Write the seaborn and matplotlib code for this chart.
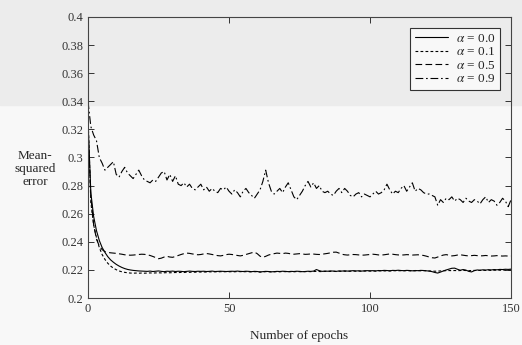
import pandas as pd
import seaborn as sns
import matplotlib.pyplot as plt
from matplotlib.patches import Rectangle

# epochs 0..150
epochs = list(range(151))

mse_a00 = [0.326, 0.275, 0.258, 0.248, 0.241, 0.236, 0.2325, 0.2295, 0.2272, 0.2255,
           0.2240, 0.2228, 0.2218, 0.2210, 0.2204, 0.2200, 0.2197, 0.2195, 0.2193, 0.2192,
           0.2191, 0.2190, 0.2192, 0.2189, 0.2191, 0.2193, 0.2190, 0.2188, 0.2191, 0.2190,
           0.2192, 0.2189, 0.2191, 0.2190, 0.2188, 0.2190, 0.2192, 0.2190, 0.2189, 0.2191,
           0.2190, 0.2191, 0.2189, 0.2190, 0.2192, 0.2189, 0.2190, 0.2191, 0.2190, 0.2189,
           0.2190, 0.2191, 0.2190, 0.2192, 0.2190, 0.2189, 0.2191, 0.2190, 0.2188, 0.2190,
           0.2189, 0.2186, 0.2188, 0.2190, 0.2189, 0.2187, 0.2188, 0.2190, 0.2189, 0.2191,
           0.2190, 0.2188, 0.2190, 0.2189, 0.2191, 0.2190, 0.2188, 0.2189, 0.2191, 0.2190,
           0.2192, 0.2203, 0.2195, 0.2190, 0.2192, 0.2191, 0.2193, 0.2192, 0.2190, 0.2193,
           0.2192, 0.2194, 0.2192, 0.2193, 0.2195, 0.2193, 0.2194, 0.2192, 0.2194, 0.2195,
           0.2194, 0.2195, 0.2193, 0.2196, 0.2195, 0.2197, 0.2196, 0.2194, 0.2197, 0.2196,
           0.2198, 0.2196, 0.2195, 0.2197, 0.2196, 0.2194, 0.2196, 0.2195, 0.2197, 0.2196,
           0.2194, 0.2192, 0.2188, 0.2182, 0.2178, 0.2185, 0.2193, 0.2200, 0.2206, 0.2212,
           0.2213, 0.2205, 0.2198, 0.2203, 0.2199, 0.2190, 0.2186, 0.2195, 0.2200, 0.2198,
           0.2201, 0.2199, 0.2202, 0.2200, 0.2203, 0.2201, 0.2204, 0.2203, 0.2205, 0.2204,
           0.2206]

mse_a01 = [0.330, 0.268, 0.252, 0.243, 0.236, 0.231, 0.2275, 0.2248, 0.2228, 0.2213,
           0.2202, 0.2193, 0.2187, 0.2183, 0.2180, 0.2178, 0.2177, 0.2178, 0.2177, 0.2178,
           0.2177, 0.2178, 0.2179, 0.2178, 0.2179, 0.2180, 0.2179, 0.2180, 0.2181, 0.2180,
           0.2181, 0.2182, 0.2181, 0.2183, 0.2182, 0.2184, 0.2183, 0.2185, 0.2184, 0.2186,
           0.2185, 0.2186, 0.2185, 0.2187, 0.2186, 0.2187, 0.2186, 0.2188, 0.2187, 0.2188,
           0.2187, 0.2188, 0.2187, 0.2189, 0.2188, 0.2187, 0.2188, 0.2187, 0.2186, 0.2188,
           0.2187, 0.2185, 0.2186, 0.2188, 0.2187, 0.2186, 0.2187, 0.2188, 0.2187, 0.2189,
           0.2188, 0.2187, 0.2188, 0.2187, 0.2189, 0.2188, 0.2187, 0.2188, 0.2189, 0.2188,
           0.2189, 0.2190, 0.2189, 0.2188, 0.2190, 0.2189, 0.2190, 0.2191, 0.2189, 0.2191,
           0.2190, 0.2191, 0.2190, 0.2191, 0.2192, 0.2191, 0.2192, 0.2191, 0.2192, 0.2193,
           0.2192, 0.2193, 0.2192, 0.2193, 0.2194, 0.2193, 0.2194, 0.2193, 0.2194, 0.2195,
           0.2194, 0.2195, 0.2194, 0.2195, 0.2194, 0.2193, 0.2194, 0.2195, 0.2194, 0.2195,
           0.2194, 0.2193, 0.2192, 0.2191, 0.2192, 0.2193, 0.2194, 0.2195, 0.2196, 0.2195,
           0.2196, 0.2195, 0.2196, 0.2197, 0.2196, 0.2195, 0.2196, 0.2197, 0.2196, 0.2197,
           0.2198, 0.2197, 0.2198, 0.2197, 0.2198, 0.2199, 0.2198, 0.2199, 0.2198, 0.2199,
           0.2200]

mse_a05 = [0.320, 0.272, 0.252, 0.242, 0.237, 0.2345, 0.2330, 0.2325, 0.2322, 0.2320,
           0.2318, 0.2315, 0.2312, 0.2308, 0.2306, 0.2305, 0.2306, 0.2308, 0.2310, 0.2312,
           0.2311, 0.2308, 0.2303, 0.2296, 0.2288, 0.2280, 0.2284, 0.2292, 0.2297, 0.2292,
           0.2290, 0.2296, 0.2303, 0.2310, 0.2316, 0.2320, 0.2318, 0.2314, 0.2311, 0.2308,
           0.2310, 0.2314, 0.2317, 0.2314, 0.2310, 0.2306, 0.2302, 0.2300, 0.2304, 0.2309,
           0.2312, 0.2310, 0.2307, 0.2303, 0.2300, 0.2304, 0.2310, 0.2316, 0.2322, 0.2327,
           0.2316, 0.2298, 0.2290, 0.2297, 0.2306, 0.2312, 0.2316, 0.2320, 0.2318, 0.2316,
           0.2320, 0.2318, 0.2314, 0.2312, 0.2314, 0.2316, 0.2314, 0.2311, 0.2312, 0.2314,
           0.2313, 0.2311, 0.2310, 0.2312, 0.2315, 0.2318, 0.2322, 0.2326, 0.2327, 0.2320,
           0.2312, 0.2308, 0.2306, 0.2308, 0.2310, 0.2309, 0.2307, 0.2305, 0.2306, 0.2308,
           0.2310, 0.2312, 0.2310, 0.2307, 0.2306, 0.2308, 0.2311, 0.2314, 0.2312, 0.2309,
           0.2307, 0.2306, 0.2307, 0.2309, 0.2308, 0.2306, 0.2307, 0.2308, 0.2306, 0.2303,
           0.2298, 0.2292, 0.2287, 0.2285, 0.2292, 0.2300, 0.2306, 0.2309, 0.2305, 0.2300,
           0.2302, 0.2306, 0.2308, 0.2305, 0.2302, 0.2300, 0.2302, 0.2304, 0.2302, 0.2300,
           0.2301, 0.2303, 0.2301, 0.2299, 0.2300, 0.2302, 0.2300, 0.2299, 0.2300, 0.2299,
           0.2299]

mse_a09 = [0.340, 0.322, 0.316, 0.312, 0.300, 0.296, 0.291, 0.293, 0.295, 0.297,
           0.288, 0.286, 0.290, 0.293, 0.289, 0.287, 0.285, 0.288, 0.291, 0.287,
           0.284, 0.283, 0.282, 0.284, 0.283, 0.286, 0.289, 0.290, 0.284, 0.288,
           0.283, 0.287, 0.281, 0.280, 0.282, 0.279, 0.281, 0.278, 0.277, 0.279,
           0.281, 0.277, 0.279, 0.276, 0.278, 0.276, 0.275, 0.278, 0.277, 0.279,
           0.276, 0.274, 0.277, 0.275, 0.272, 0.276, 0.278, 0.275, 0.273, 0.271,
           0.274, 0.277, 0.283, 0.291, 0.282, 0.276, 0.274, 0.276, 0.278, 0.275,
           0.279, 0.282, 0.277, 0.272, 0.270, 0.273, 0.276, 0.280, 0.283, 0.279,
           0.282, 0.278, 0.280, 0.276, 0.275, 0.276, 0.274, 0.273, 0.276, 0.278,
           0.275, 0.278, 0.276, 0.273, 0.272, 0.274, 0.275, 0.272, 0.274, 0.273,
           0.272, 0.274, 0.276, 0.274, 0.275, 0.277, 0.281, 0.277, 0.274, 0.276,
           0.275, 0.278, 0.280, 0.276, 0.279, 0.282, 0.276, 0.278, 0.277, 0.275,
           0.274, 0.274, 0.273, 0.272, 0.266, 0.270, 0.268, 0.271, 0.270, 0.272,
           0.269, 0.271, 0.270, 0.268, 0.271, 0.269, 0.268, 0.270, 0.269, 0.267,
           0.270, 0.272, 0.268, 0.270, 0.269, 0.266, 0.268, 0.271, 0.269, 0.265,
           0.270]

labels = [r'$\alpha$ = 0.0', r'$\alpha$ = 0.1', r'$\alpha$ = 0.5', r'$\alpha$ = 0.9']
series = [mse_a00, mse_a01, mse_a05, mse_a09]

rows = []
for lab, vals in zip(labels, series):
    for e, v in zip(epochs, vals):
        rows.append({'epoch': e, 'mse': v, 'alpha': lab})
df = pd.DataFrame(rows)

sns.set_style('ticks')
plt.rcParams['font.family'] = ['Liberation Serif', 'DejaVu Serif']
plt.rcParams['mathtext.fontset'] = 'stix'

fig = plt.figure(figsize=(5.22, 3.45), dpi=100, facecolor='#f8f8f8')
# scan-like grey band at the top of the page
fig.patches.append(Rectangle((0, 1 - 105 / 345), 1, 105 / 345, transform=fig.transFigure,
                             color='#ececec', zorder=-1))
ax = fig.add_axes([0.1686, 0.136, 0.8104, 0.815])
ax.set_facecolor('none')

sns.lineplot(data=df, x='epoch', y='mse', style='alpha', style_order=labels,
             dashes=['', (2.5, 2), (6, 3), (7, 2.5, 1.5, 2.5)],
             color='black', linewidth=0.8, ax=ax)

ax.set_xlim(0, 150)
ax.set_ylim(0.2, 0.4)
ax.set_xticks([0, 50, 100, 150])
yt = [0.2, 0.22, 0.24, 0.26, 0.28, 0.3, 0.32, 0.34, 0.36, 0.38, 0.4]
ax.set_yticks(yt)
ax.set_yticklabels(['%g' % t for t in yt])
ax.tick_params(direction='in', top=True, right=True, length=4, width=0.7,
               labelsize=9, colors='#333333')
for s in ax.spines.values():
    s.set_linewidth(0.8)
    s.set_color('#444444')

ax.set_xlabel('Number of epochs', fontsize=9.5)
ax.xaxis.set_label_coords(0.5, -0.115)
ax.set_ylabel('Mean-\nsquared\nerror', fontsize=9.5, rotation=0, ha='center', va='center',
              linespacing=1.1)
ax.yaxis.set_label_coords(-0.125, 0.46)

h, l = ax.get_legend_handles_labels()
ax.legend(h, l, loc='upper right', fontsize=9.5, frameon=True, fancybox=False,
          edgecolor='#333333', framealpha=1, facecolor='#f8f8f8', handlelength=2.5,
          borderpad=0.35, labelspacing=0.1, handletextpad=0.6, borderaxespad=0,
          bbox_to_anchor=(0.974, 0.961))
ax.get_legend().get_frame().set_linewidth(0.8)

fig.savefig('out.png', dpi=100, facecolor=fig.get_facecolor())
